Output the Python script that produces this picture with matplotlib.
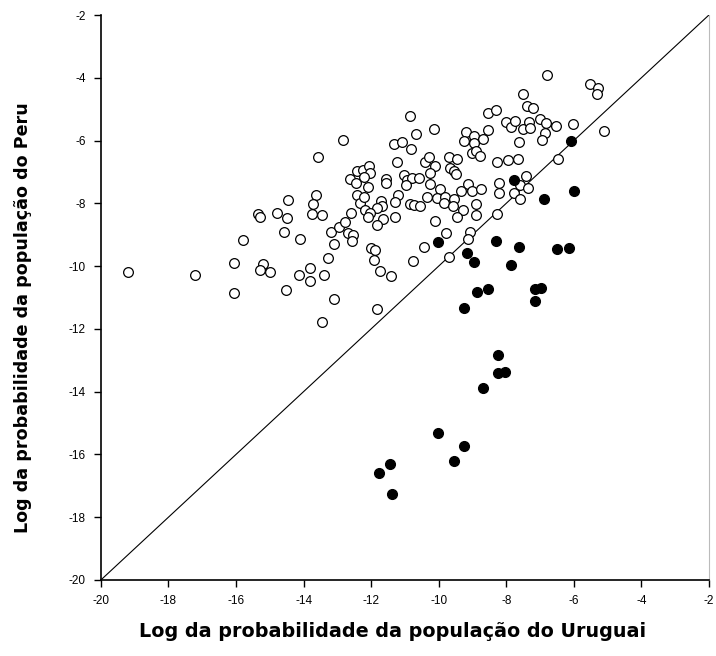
import matplotlib
matplotlib.use("Agg")
import matplotlib.pyplot as plt

plt.rcParams["axes.unicode_minus"] = False

# open circles: (Uruguay, Peru) log probabilities
open_x = [
    -19.19, -17.23, -16.06, -16.07, -15.79, -15.36, -15.30, -15.20, -15.30, -14.99,
    -14.79, -14.46, -14.49, -14.57, -14.10, -14.13, -14.52,
    -13.62, -13.72, -13.76, -13.44, -13.57, -13.80, -13.80, -13.40, -13.18, -12.96,
    -12.78, -13.11, -13.27, -13.11, -13.46,
    -12.84, -12.69, -12.54, -12.56, -12.61, -12.42, -12.34, -12.22, -12.17, -12.43,
    -12.25, -12.05, -12.04, -12.63, -12.46, -12.21, -12.09, -11.70, -11.67, -11.83,
    -12.04, -12.09, -11.65, -11.83, -11.28, -11.56, -11.57, -11.31, -11.08, -11.23,
    -11.20, -11.28, -12.01, -11.89, -11.92, -11.75, -11.42, -11.83,
    -10.84, -10.67, -10.13, -10.83, -11.03, -10.95, -10.78, -10.59, -10.98, -10.41,
    -10.30, -10.12, -10.25, -10.27, -9.97, -10.86, -10.74, -10.54, -10.35, -10.04,
    -9.80, -9.85, -9.56, -10.12, -10.76, -10.43,
    -9.68, -9.46, -9.65, -9.56, -9.50, -9.20, -8.96, -8.70, -8.55, -9.25,
    -8.96, -9.01, -8.89, -8.79, -8.55, -8.30, -9.12, -9.01, -8.76, -9.33,
    -8.22, -9.58, -9.28, -9.45, -8.88, -8.88, -8.20, -9.77, -9.08, -9.14,
    -9.69, -8.27,
    -8.28, -7.77, -7.58, -7.36, -7.60, -7.41, -7.95, -7.65, -6.48, -7.61,
    -8.02, -7.87, -7.73, -7.51, -7.33, -7.31, -6.99, -6.81, -6.54, -6.03,
    -6.84, -6.94, -5.10, -7.39, -7.21, -7.51, -6.80, -5.53, -5.29, -5.32,
]
open_y = [
    -10.19, -10.28, -9.89, -10.85, -9.18, -8.34, -8.44, -9.94, -10.11, -10.18,
    -8.30, -7.90, -8.47, -8.91, -9.13, -10.27, -10.76,
    -7.73, -8.03, -8.34, -8.38, -6.51, -10.06, -10.49, -10.27, -8.92, -8.74,
    -8.60, -9.30, -9.74, -11.05, -11.77,
    -5.97, -8.95, -9.01, -9.20, -8.32, -7.73, -8.00, -7.81, -8.21, -6.97,
    -6.94, -6.81, -7.03, -7.22, -7.34, -7.15, -7.47, -7.91, -8.10, -8.16,
    -8.32, -8.42, -8.51, -8.68, -8.42, -7.23, -7.34, -6.10, -6.05, -6.67,
    -7.73, -7.95, -9.43, -9.49, -9.80, -10.14, -10.32, -11.37,
    -5.23, -5.79, -5.62, -6.28, -7.10, -7.24, -7.20, -7.20, -7.41, -6.69,
    -6.51, -6.82, -7.04, -7.38, -7.55, -8.02, -8.06, -8.07, -7.79, -7.83,
    -7.79, -7.98, -7.86, -8.56, -9.83, -9.40,
    -6.51, -6.60, -6.88, -6.98, -7.07, -5.74, -5.86, -5.94, -5.66, -6.01,
    -6.08, -6.41, -6.32, -6.49, -5.13, -5.01, -7.38, -7.60, -7.55, -7.61,
    -7.34, -8.10, -8.21, -8.42, -8.02, -8.37, -7.67, -8.96, -8.91, -9.14,
    -9.70, -6.67,
    -8.34, -7.66, -7.41, -7.52, -7.87, -7.13, -6.62, -6.59, -6.59, -6.05,
    -5.42, -5.58, -5.37, -5.63, -5.41, -5.61, -5.31, -5.45, -5.53, -5.48,
    -5.77, -5.98, -5.70, -4.91, -4.97, -4.53, -3.91, -4.21, -4.33, -4.53,
]

# filled circles
filled_x = [
    -10.03, -9.16, -8.95, -8.86, -8.53, -9.24, -8.31, -7.78, -6.07, -6.87,
    -5.99, -7.62, -6.49, -6.14, -7.87, -7.16, -6.98, -7.14, -8.25, -8.25,
    -8.05, -8.69, -10.02, -9.26, -9.56, -11.43, -11.78, -11.37,
]
filled_y = [
    -9.23, -9.57, -9.88, -10.84, -10.73, -11.33, -9.20, -7.27, -6.00, -7.86,
    -7.61, -9.40, -9.45, -9.41, -9.98, -10.74, -10.69, -11.11, -12.83, -13.40,
    -13.38, -13.89, -15.33, -15.73, -16.20, -16.30, -16.60, -17.25,
]

ticks = [-20, -18, -16, -14, -12, -10, -8, -6, -4, -2]

fig = plt.figure(figsize=(7.16, 6.56), dpi=100)
ax = fig.add_axes([0.141, 0.116, 0.849, 0.861])

# identity line
ax.plot([-20, -2], [-20, -2], color="black", lw=0.8, zorder=1)

ax.plot(open_x, open_y, "o", ms=7, mfc="white", mec="black", mew=0.9,
        linestyle="none", zorder=2)
ax.plot(filled_x, filled_y, "o", ms=7, mfc="black", mec="black",
        linestyle="none", zorder=3)

ax.set_xlim(-20, -2)
ax.set_ylim(-20, -2)
ax.set_xticks(ticks)
ax.set_yticks(ticks)
ax.tick_params(direction="out", length=5, width=1, labelsize=8.5, pad=6)
for lab in ax.get_xticklabels() + ax.get_yticklabels():
    lab.set_family("Liberation Sans")

ax.spines["top"].set_visible(False)
ax.spines["right"].set_color("#bbbbbb")
ax.spines["right"].set_linewidth(0.8)
ax.spines["left"].set_linewidth(1.2)
ax.spines["bottom"].set_linewidth(1.2)

ax.set_xlabel("Log da probabilidade da população do Uruguai", fontsize=13.8,
              fontweight="bold", va="center")
ax.set_ylabel("Log da probabilidade da população do Peru", fontsize=12.6,
              fontweight="bold", va="center")
ax.xaxis.set_label_coords(0.479, -0.092)
ax.yaxis.set_label_coords(-0.128, 0.464)

fig.savefig("out.png", dpi=100)
